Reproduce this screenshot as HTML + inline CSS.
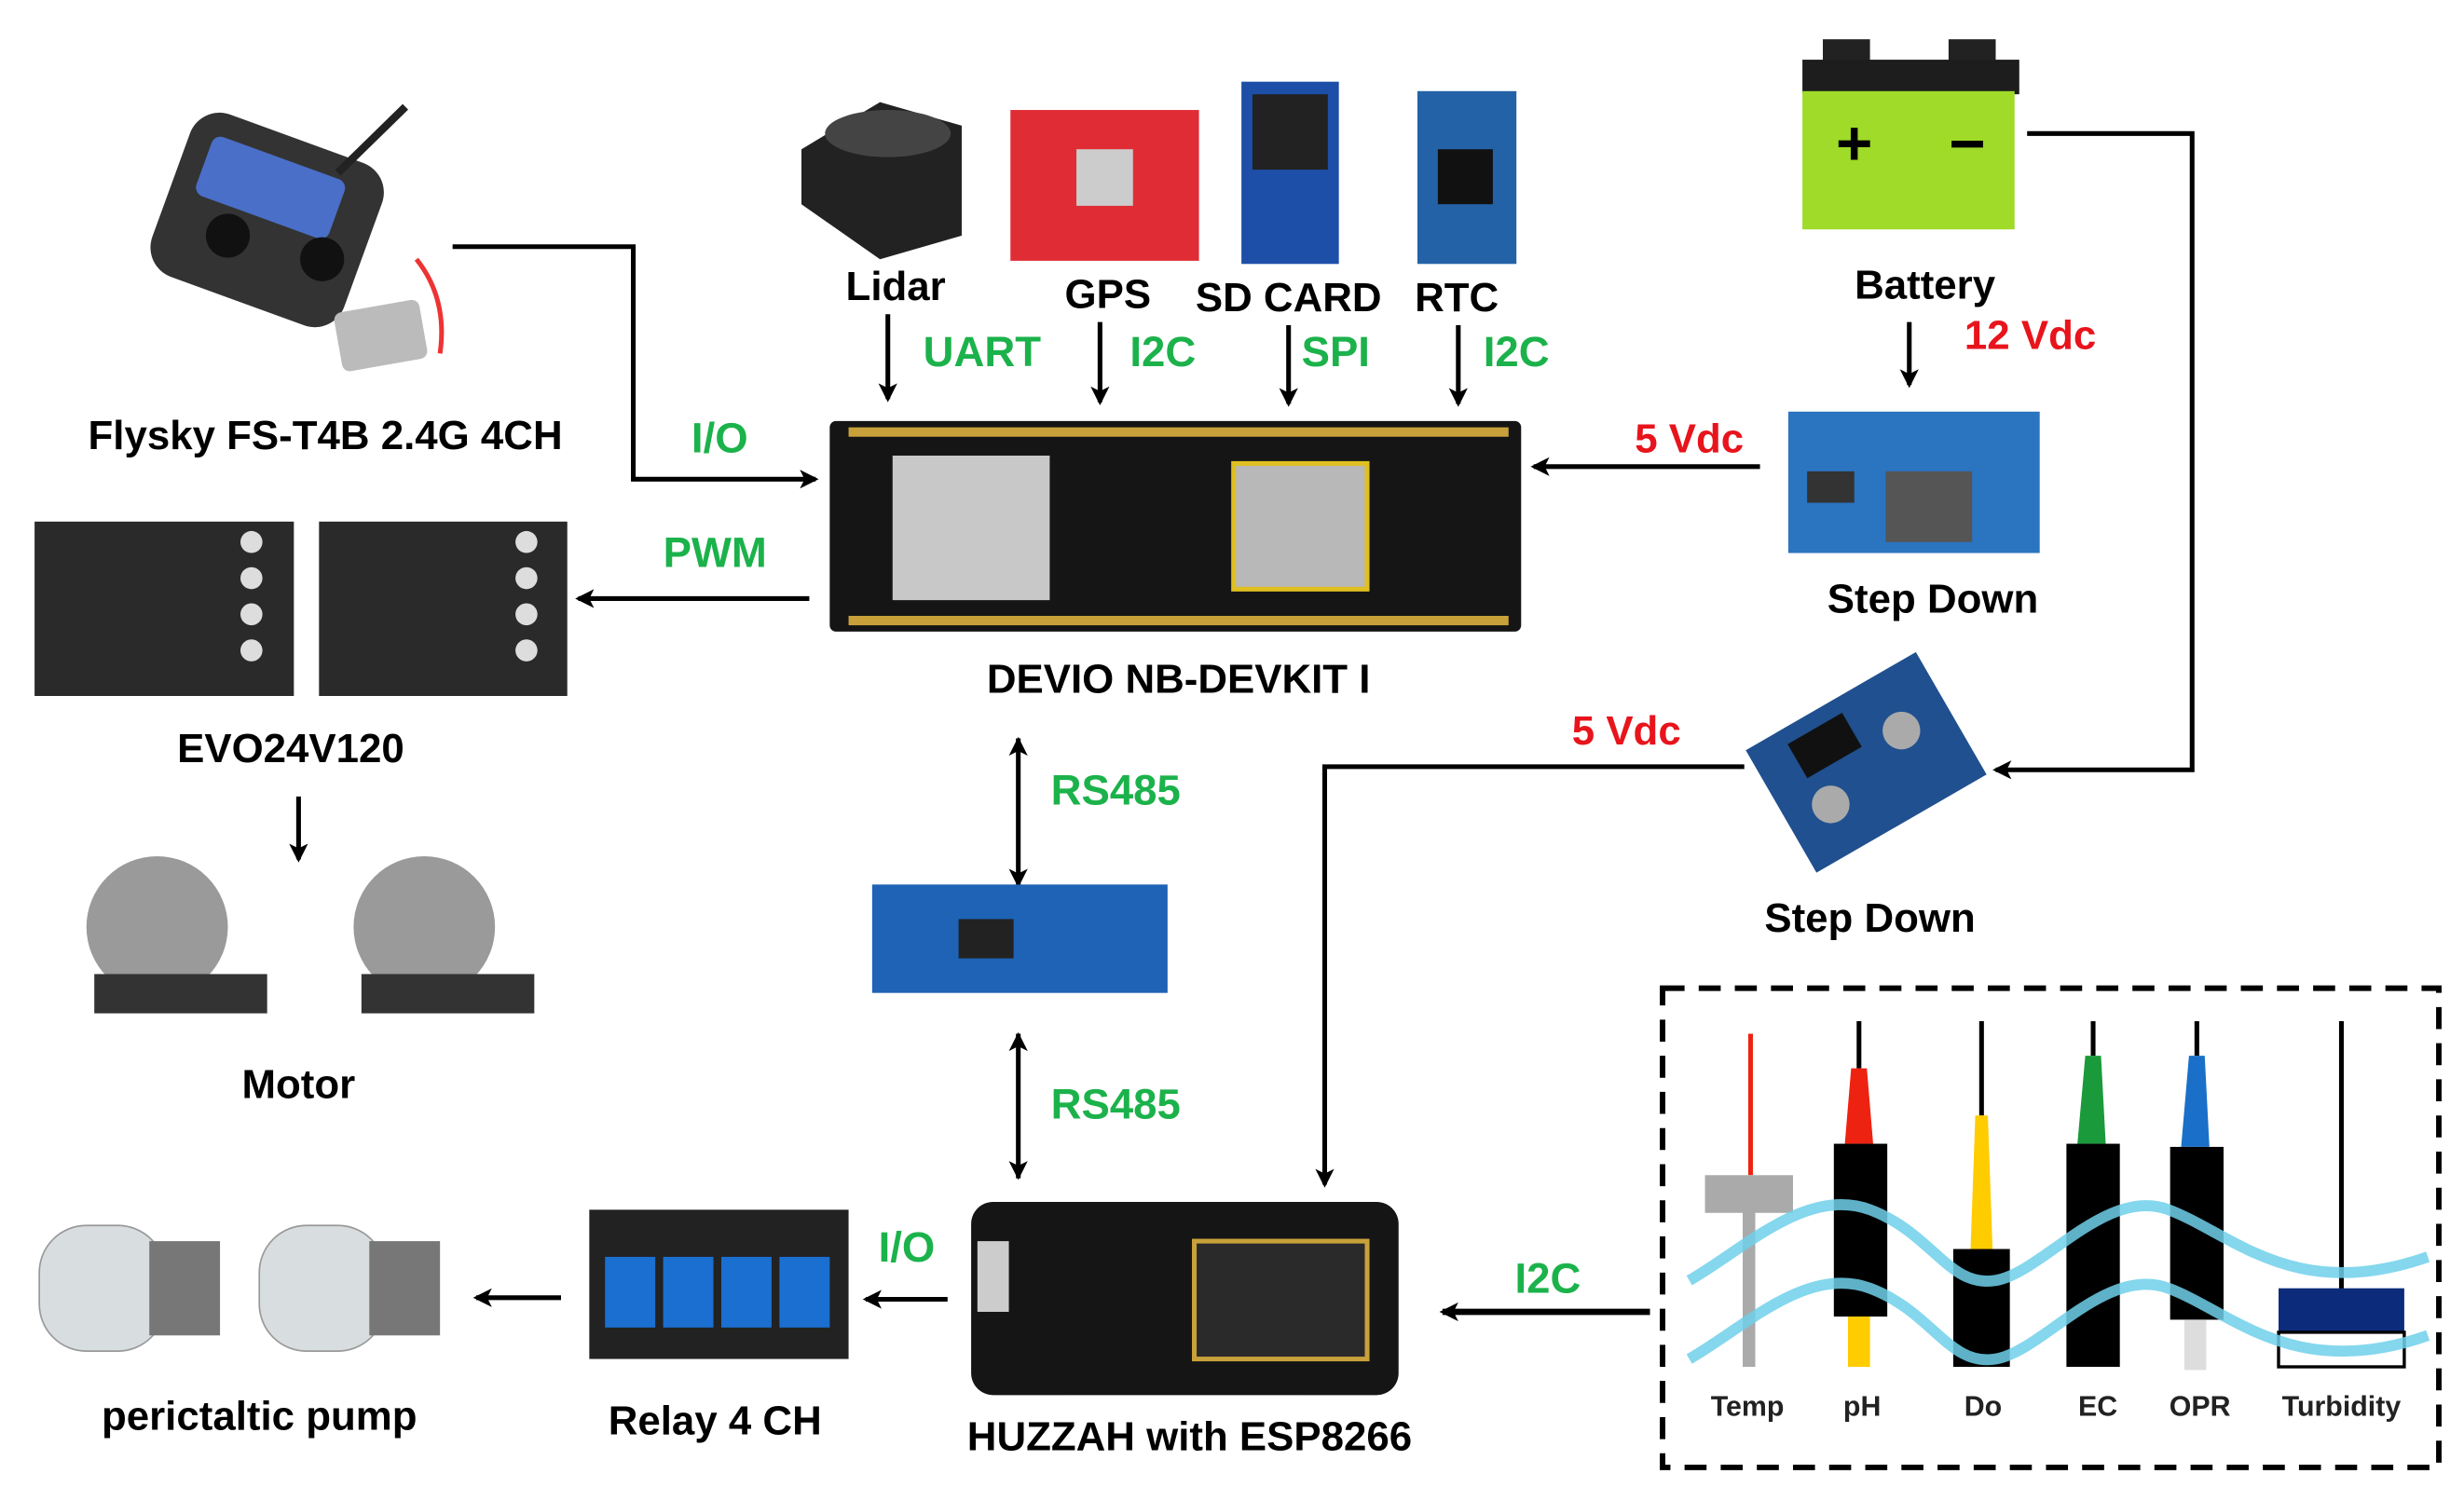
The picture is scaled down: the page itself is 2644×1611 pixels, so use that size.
<!DOCTYPE html>
<html><head><meta charset="utf-8"><style>
html,body{margin:0;padding:0;background:#fff;}
svg{display:block}
text{font-family:"Liberation Sans",sans-serif;font-weight:bold}
</style></head><body>
<svg width="2644" height="1611" viewBox="0 0 1568 955.4" xmlns="http://www.w3.org/2000/svg">
<defs>
<marker id="a" markerWidth="12" markerHeight="12" refX="10" refY="6" orient="auto" markerUnits="userSpaceOnUse" viewBox="0 0 12 12"><path d="M0,0 L12,6 L0,12 L3,6 z" fill="#000"/></marker>
<marker id="b" markerWidth="12" markerHeight="12" refX="11" refY="6" orient="auto" markerUnits="userSpaceOnUse" viewBox="0 0 12 12"><path d="M0,0 L12,6 L0,12 L3,6 z" fill="#000"/></marker>
<marker id="bs" markerWidth="12" markerHeight="12" refX="1" refY="6" orient="auto" markerUnits="userSpaceOnUse" viewBox="0 0 12 12"><path d="M12,0 L0,6 L12,12 L9,6 z" fill="#000"/></marker>
</defs>
<rect width="1568" height="956" fill="#fff"/>

<!-- Flysky -->
<rect x="105" y="85" width="130" height="110" rx="20" fill="#333" transform="rotate(20 170 140)"/>
<rect x="120" y="100" width="90" height="40" rx="6" fill="#4a6fc8" transform="rotate(20 170 140)"/>
<circle cx="145" cy="150" r="14" fill="#111"/><circle cx="205" cy="165" r="14" fill="#111"/>
<line x1="215" y1="110" x2="258" y2="68" stroke="#222" stroke-width="5"/>
<rect x="215" y="195" width="55" height="38" rx="5" fill="#bbb" transform="rotate(-10 240 215)"/>
<path d="M265,165 Q285,190 280,225" stroke="#e33" stroke-width="3" fill="none"/>
<text x="207" y="286" font-size="26" text-anchor="middle">Flysky FS-T4B 2.4G 4CH</text>

<!-- top sensors -->
<path d="M510,95 L560,65 L612,80 L612,150 L560,165 L510,130 z" fill="#222"/>
<ellipse cx="565" cy="85" rx="40" ry="15" fill="#444"/>
<rect x="643" y="70" width="120" height="96" fill="#e02d35"/>
<rect x="685" y="95" width="36" height="36" fill="#ccc"/>
<rect x="790" y="52" width="62" height="116" fill="#1d4fa8"/>
<rect x="797" y="60" width="48" height="48" fill="#222"/>
<rect x="902" y="58" width="63" height="110" fill="#2462a8"/>
<rect x="915" y="95" width="35" height="35" fill="#111"/>
<text x="570" y="191" font-size="26" text-anchor="middle">Lidar</text>
<text x="705" y="196" font-size="26" text-anchor="middle">GPS</text>
<text x="820" y="198" font-size="26" text-anchor="middle">SD CARD</text>
<text x="927" y="198" font-size="26" text-anchor="middle">RTC</text>
<g fill="#1cb24b" font-size="27">
<text x="625" y="233" text-anchor="middle">UART</text>
<text x="740" y="233" text-anchor="middle">I2C</text>
<text x="850" y="233" text-anchor="middle">SPI</text>
<text x="965" y="233" text-anchor="middle">I2C</text>
<text x="458" y="288" text-anchor="middle">I/O</text>
<text x="455" y="361" text-anchor="middle">PWM</text>
<text x="710" y="512" text-anchor="middle">RS485</text>
<text x="710" y="712" text-anchor="middle">RS485</text>
<text x="577" y="803" text-anchor="middle">I/O</text>
<text x="985" y="823" text-anchor="middle">I2C</text>
</g>
<g stroke="#000" stroke-width="3" fill="none">
<line x1="565" y1="200" x2="565" y2="254" marker-end="url(#a)"/>
<line x1="700" y1="205" x2="700" y2="256" marker-end="url(#a)"/>
<line x1="820" y1="207" x2="820" y2="257" marker-end="url(#a)"/>
<line x1="928" y1="207" x2="928" y2="257" marker-end="url(#a)"/>
<polyline points="288,157 403,157 403,305 519,305" marker-end="url(#a)"/>
<polyline points="1290,85 1395,85 1395,490 1270,490" marker-end="url(#a)"/>
<line x1="1215" y1="205" x2="1215" y2="245" marker-end="url(#a)"/>
<line x1="1120" y1="297" x2="976" y2="297" marker-end="url(#a)"/>
<line x1="515" y1="381" x2="368" y2="381" marker-end="url(#a)"/>
<line x1="190" y1="507" x2="190" y2="547" marker-end="url(#a)"/>
<line x1="648" y1="470" x2="648" y2="564" marker-start="url(#bs)" marker-end="url(#b)"/>
<line x1="648" y1="658" x2="648" y2="750" marker-start="url(#bs)" marker-end="url(#b)"/>
<polyline points="1110,488 843,488 843,754" marker-end="url(#a)"/>
<line x1="603" y1="827" x2="551" y2="827" marker-end="url(#a)"/>
<line x1="357" y1="826" x2="303" y2="826" marker-end="url(#a)"/>
<line x1="1050" y1="835" x2="918" y2="835" stroke-width="4" marker-end="url(#a)"/>
</g>

<!-- battery -->
<rect x="1160" y="25" width="30" height="15" fill="#222"/><rect x="1240" y="25" width="30" height="15" fill="#222"/>
<rect x="1147" y="38" width="138" height="22" fill="#1d1d1d"/>
<rect x="1147" y="58" width="135" height="88" fill="#9fdb28"/>
<text x="1180" y="105" font-size="40" text-anchor="middle" font-weight="normal">+</text>
<text x="1252" y="105" font-size="40" text-anchor="middle" font-weight="normal">−</text>
<text x="1225" y="190" font-size="26" text-anchor="middle">Battery</text>
<text x="1292" y="222" font-size="26" text-anchor="middle" fill="#e8141c">12 Vdc</text>
<text x="1075" y="288" font-size="26" text-anchor="middle" fill="#e8141c">5 Vdc</text>
<text x="1035" y="474" font-size="26" text-anchor="middle" fill="#e8141c">5 Vdc</text>

<!-- step down 1 -->
<rect x="1138" y="262" width="160" height="90" fill="#2b74c0"/>
<rect x="1200" y="300" width="55" height="45" fill="#555"/>
<rect x="1150" y="300" width="30" height="20" fill="#333"/>
<text x="1230" y="390" font-size="26" text-anchor="middle">Step Down</text>

<!-- step down 2 -->
<rect x="1125" y="440" width="125" height="90" fill="#20508f" transform="rotate(-30 1188 485)"/>
<rect x="1150" y="450" width="40" height="25" fill="#111" transform="rotate(-30 1188 485)"/>
<circle cx="1210" cy="465" r="12" fill="#aaa"/><circle cx="1165" cy="512" r="12" fill="#aaa"/>
<text x="1190" y="593" font-size="26" text-anchor="middle">Step Down</text>

<!-- devkit -->
<rect x="528" y="268" width="440" height="134" rx="4" fill="#151515"/>
<rect x="568" y="290" width="100" height="92" fill="#c8c8c8"/>
<rect x="785" y="295" width="85" height="80" fill="#b8b8b8" stroke="#e0c020" stroke-width="3"/>
<g fill="#c9a13a"><rect x="540" y="272" width="420" height="6"/><rect x="540" y="392" width="420" height="6"/></g>
<text x="750" y="441" font-size="26" text-anchor="middle">DEVIO NB-DEVKIT I</text>

<!-- EVO -->
<rect x="22" y="332" width="165" height="111" fill="#2a2a2a"/>
<rect x="203" y="332" width="158" height="111" fill="#2a2a2a"/>
<g fill="#ddd"><circle cx="160" cy="345" r="7"/><circle cx="160" cy="368" r="7"/><circle cx="160" cy="391" r="7"/><circle cx="160" cy="414" r="7"/>
<circle cx="335" cy="345" r="7"/><circle cx="335" cy="368" r="7"/><circle cx="335" cy="391" r="7"/><circle cx="335" cy="414" r="7"/></g>
<text x="185" y="485" font-size="26" text-anchor="middle">EVO24V120</text>

<!-- motors -->
<circle cx="100" cy="590" r="45" fill="#9a9a9a"/><rect x="60" y="620" width="110" height="25" fill="#333"/>
<circle cx="270" cy="590" r="45" fill="#9a9a9a"/><rect x="230" y="620" width="110" height="25" fill="#333"/>
<text x="190" y="699" font-size="26" text-anchor="middle">Motor</text>

<!-- RS485 module -->
<rect x="555" y="563" width="188" height="69" fill="#1e63b5"/>
<rect x="610" y="585" width="35" height="25" fill="#222"/>

<!-- huzzah -->
<rect x="618" y="765" width="272" height="123" rx="14" fill="#151515"/>
<rect x="760" y="790" width="110" height="75" fill="#2a2a2a" stroke="#c9a13a" stroke-width="3"/>
<rect x="622" y="790" width="20" height="45" fill="#ccc"/>
<text x="757" y="923" font-size="26" text-anchor="middle">HUZZAH with ESP8266</text>

<!-- relay -->
<rect x="375" y="770" width="165" height="95" fill="#222"/>
<g fill="#1a6fd0"><rect x="385" y="800" width="32" height="45"/><rect x="422" y="800" width="32" height="45"/><rect x="459" y="800" width="32" height="45"/><rect x="496" y="800" width="32" height="45"/></g>
<text x="455" y="913" font-size="26" text-anchor="middle">Relay 4 CH</text>

<!-- pumps -->
<rect x="25" y="780" width="80" height="80" rx="30" fill="#d8dde0" stroke="#999"/><rect x="95" y="790" width="45" height="60" fill="#777"/>
<rect x="165" y="780" width="80" height="80" rx="30" fill="#d8dde0" stroke="#999"/><rect x="235" y="790" width="45" height="60" fill="#777"/>
<text x="165" y="910" font-size="26" text-anchor="middle">perictaltic pump</text>

<!-- sensor box -->
<rect x="1058" y="629" width="494" height="305" fill="none" stroke="#000" stroke-width="3.5" stroke-dasharray="14,9"/>
<line x1="1114" y1="658" x2="1114" y2="748" stroke="#e21" stroke-width="3"/>
<rect x="1085" y="748" width="56" height="24" fill="#aaa"/><rect x="1109" y="770" width="8" height="100" fill="#aaa"/>
<line x1="1183" y1="650" x2="1183" y2="680" stroke="#000" stroke-width="3"/>
<path d="M1178,680 L1188,680 L1192,728 L1174,728 z" fill="#e21"/>
<rect x="1167" y="728" width="34" height="110" fill="#000"/><rect x="1176" y="838" width="14" height="32" fill="#fc0"/>
<line x1="1261" y1="650" x2="1261" y2="710" stroke="#000" stroke-width="3"/>
<path d="M1257,710 L1265,710 L1268,795 L1254,795 z" fill="#fc0"/><rect x="1243" y="795" width="36" height="75" fill="#000"/>
<line x1="1332" y1="650" x2="1332" y2="672" stroke="#000" stroke-width="3"/>
<path d="M1327,672 L1337,672 L1340,728 L1322,728 z" fill="#1a9a3a"/><rect x="1315" y="728" width="34" height="142" fill="#000"/>
<line x1="1398" y1="650" x2="1398" y2="672" stroke="#000" stroke-width="3"/>
<path d="M1393,672 L1403,672 L1406,730 L1388,730 z" fill="#1a70c8"/><rect x="1381" y="730" width="34" height="110" fill="#000"/><rect x="1390" y="840" width="14" height="32" fill="#ddd"/>
<line x1="1490" y1="650" x2="1490" y2="822" stroke="#000" stroke-width="3"/>
<rect x="1450" y="820" width="80" height="28" fill="#0c2b7a"/>
<rect x="1450" y="848" width="80" height="22" fill="none" stroke="#000" stroke-width="2"/>
<path d="M1075,815 C1110,795 1150,755 1190,770 S1240,820 1270,815 S1340,755 1380,770 S1460,830 1545,800" stroke="#6fd0ea" stroke-width="7" fill="none" opacity="0.85"/>
<path d="M1075,865 C1110,845 1150,805 1190,820 S1240,870 1270,865 S1340,805 1380,820 S1460,880 1545,850" stroke="#6fd0ea" stroke-width="7" fill="none" opacity="0.85"/>
<g font-size="18" text-anchor="middle" font-weight="normal" fill="#222">
<text x="1112" y="901">Temp</text><text x="1185" y="901">pH</text><text x="1262" y="901">Do</text><text x="1335" y="901">EC</text><text x="1400" y="901">OPR</text><text x="1490" y="901">Turbidity</text>
</g>
</svg>
</body></html>
